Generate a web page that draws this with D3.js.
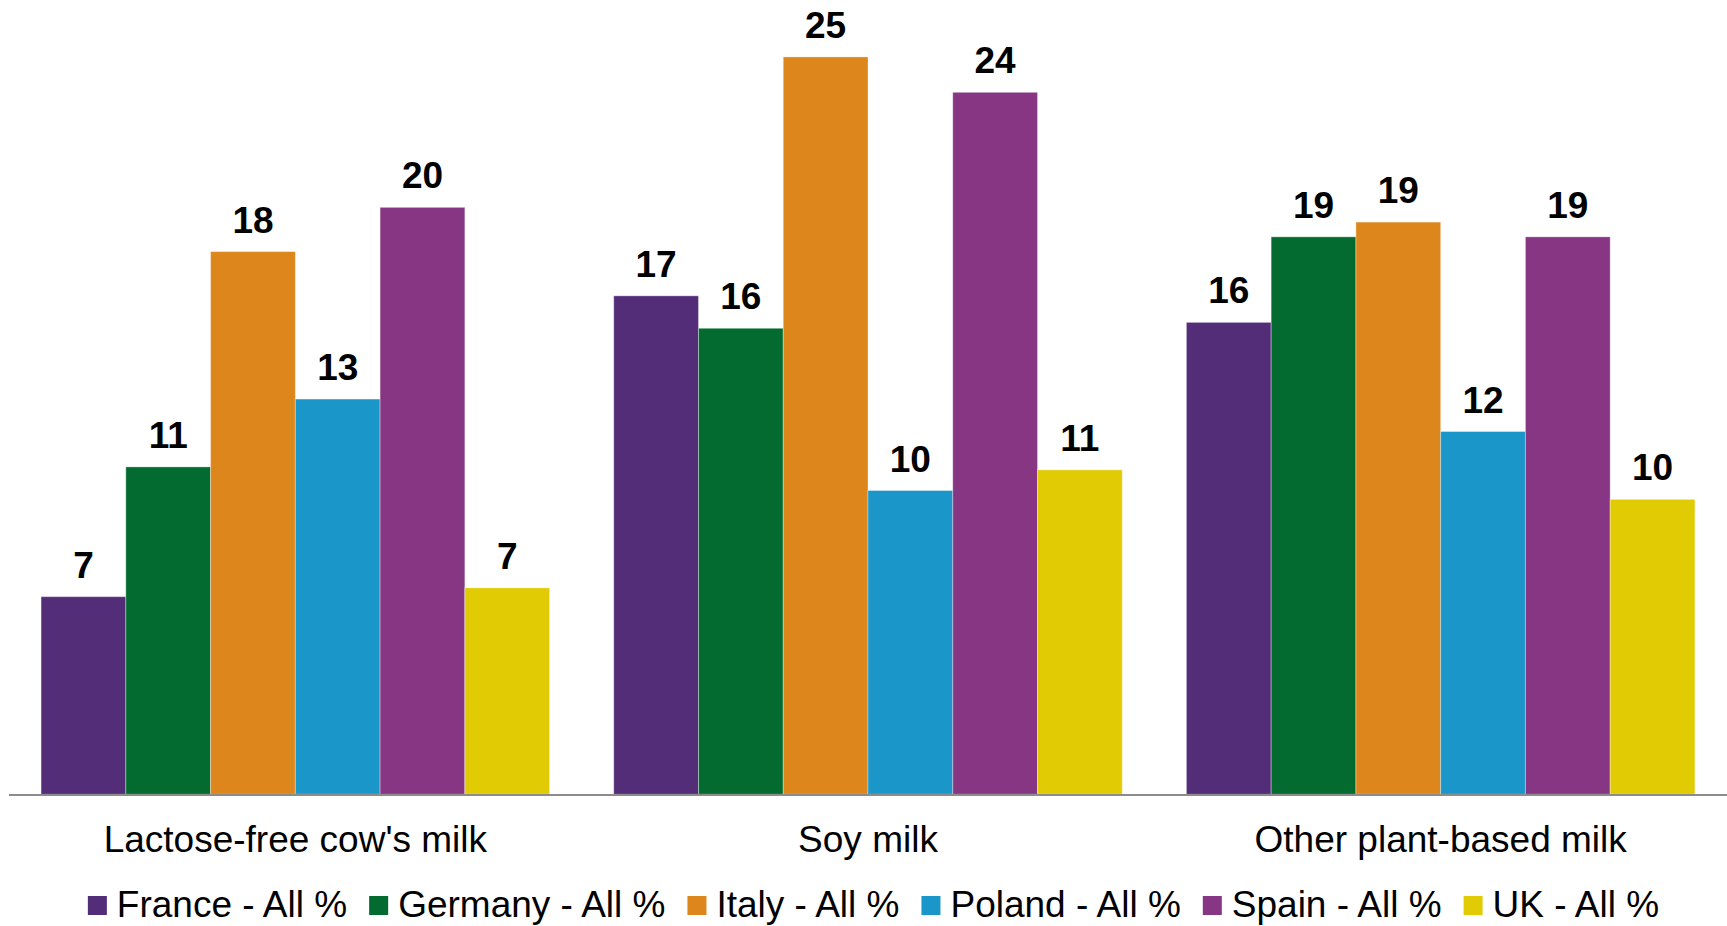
<!DOCTYPE html>
<html>
<head>
<meta charset="utf-8">
<script src="https://cdn.jsdelivr.net/npm/d3@7"></script>
<style>
  html, body { margin: 0; padding: 0; background: #ffffff; }
  svg { display: block; font-family: "Liberation Sans", Arial, sans-serif; }
</style>
</head>
<body>
<svg id="chart" width="1727" height="926"></svg>
<script>
// Milk types on the x axis
const categories = ["Lactose-free cow's milk", "Soy milk", "Other plant-based milk"];

// One series per country (share of all respondents, %)
const seriesNames = ["France - All %", "Germany - All %", "Italy - All %", "Poland - All %", "Spain - All %", "UK - All %"];
const france  = [6.7, 16.9, 16.0];
const germany = [11.1, 15.8, 18.9];
const italy   = [18.4, 25.0, 19.4];
const poland  = [13.4, 10.3, 12.3];
const spain   = [19.9, 23.8, 18.9];
const uk      = [7.0, 11.0, 10.0];
const seriesValues = [france, germany, italy, poland, spain, uk];

const colors = ["#532d78", "#036b30", "#dc861b", "#1a96c8", "#863683", "#e1cb05"];

const W = 1727, H = 926;
const baseline = 794.3;
const yMax = 26.93;

const svg = d3.select("#chart");

const x0 = d3.scaleBand()
  .domain(categories)
  .range([9, W])
  .paddingInner(0.112)
  .paddingOuter(0.056);

const x1 = d3.scaleBand()
  .domain(seriesNames)
  .range([0, x0.bandwidth()])
  .padding(0);

const y = d3.scaleLinear().domain([0, yMax]).range([baseline, 0]);

const color = d3.scaleOrdinal().domain(seriesNames).range(colors);

const rows = [];
categories.forEach((c, ci) => {
  seriesNames.forEach((s, si) => {
    rows.push({ category: c, series: s, value: seriesValues[si][ci] });
  });
});

const fmt = d3.format(".0f");

// Bars
svg.append("g")
  .selectAll("rect")
  .data(rows)
  .join("rect")
  .attr("x", d => x0(d.category) + x1(d.series))
  .attr("y", d => y(d.value))
  .attr("width", x1.bandwidth())
  .attr("height", d => y(0) - y(d.value))
  .attr("fill", d => color(d.series))
  .attr("stroke", "#ffffff")
  .attr("stroke-opacity", 0.35)
  .attr("stroke-width", 1);

// Value labels
svg.append("g")
  .selectAll("text")
  .data(rows)
  .join("text")
  .attr("x", d => x0(d.category) + x1(d.series) + x1.bandwidth() / 2)
  .attr("y", d => y(d.value) - 19)
  .attr("text-anchor", "middle")
  .attr("font-size", 37)
  .attr("font-weight", "bold")
  .attr("fill", "#000")
  .text(d => fmt(d.value));

// Category axis
const xAxis = svg.append("g")
  .attr("transform", `translate(0,${baseline + 0.7})`)
  .call(d3.axisBottom(x0).tickSize(0).tickPadding(0));
xAxis.select(".domain")
  .attr("d", `M9,0H${W}`)
  .attr("stroke", "#8c8c8c")
  .attr("stroke-width", 2);
xAxis.selectAll(".tick text")
  .attr("dy", 0)
  .attr("y", 57)
  .attr("font-size", 37)
  .attr("font-family", "Liberation Sans, Arial, sans-serif")
  .attr("fill", "#000");

// Legend
const legend = svg.append("g").attr("transform", "translate(0,917)");
const items = legend.selectAll("g")
  .data(seriesNames)
  .join("g");
items.append("rect")
  .attr("x", 0)
  .attr("y", -21)
  .attr("width", 19)
  .attr("height", 19)
  .attr("fill", d => color(d));
items.append("text")
  .attr("x", 29)
  .attr("y", 0)
  .attr("font-size", 37)
  .attr("fill", "#000")
  .text(d => d);

let offset = 0;
const widths = [];
items.each(function () {
  const w = 29 + this.querySelector("text").getComputedTextLength();
  widths.push(w);
});
const gap = 22;
const total = d3.sum(widths) + gap * (widths.length - 1);
const start = 873.5 - total / 2;
items.attr("transform", (d, i) => {
  const tx = start + offset;
  offset += widths[i] + gap;
  return `translate(${tx},0)`;
});
</script>
</body>
</html>
